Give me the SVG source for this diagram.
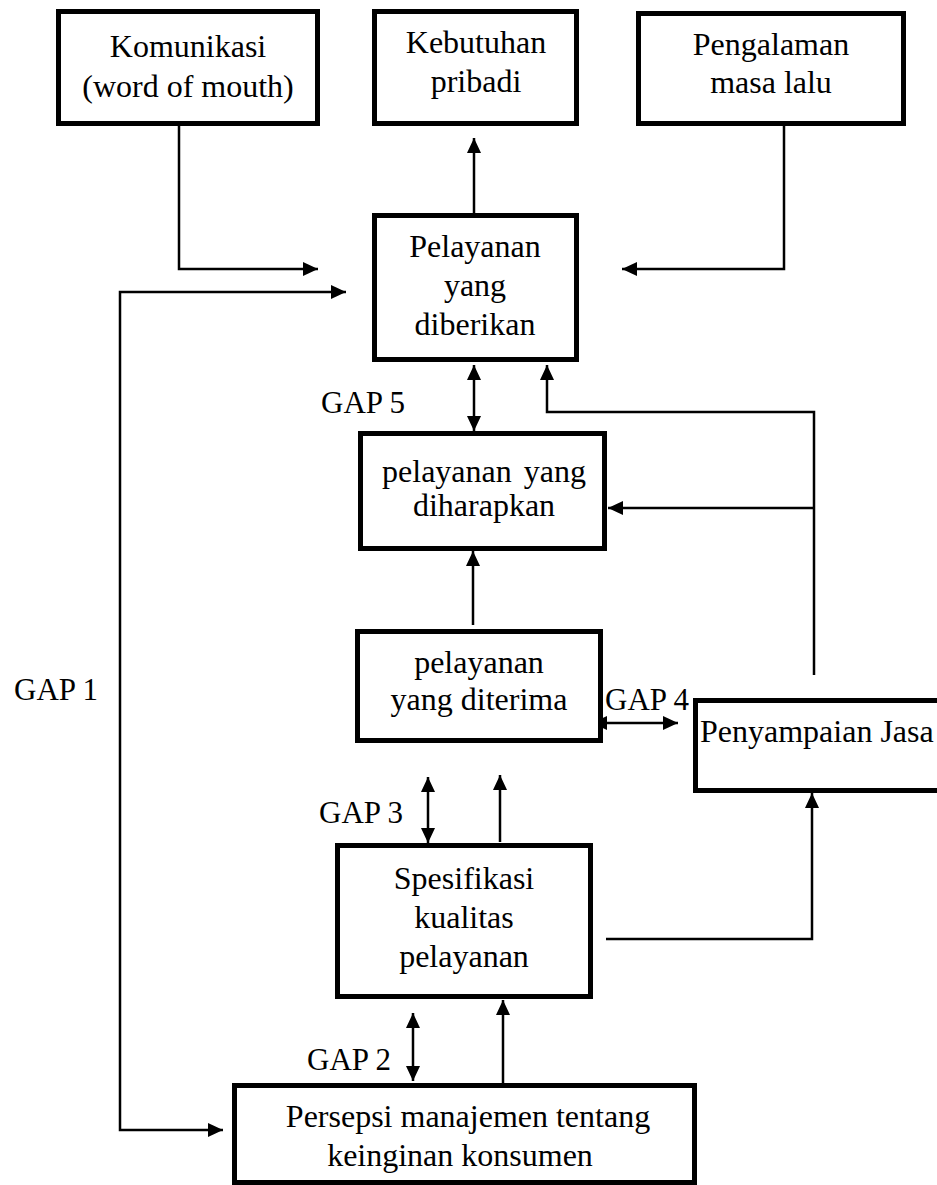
<svg xmlns="http://www.w3.org/2000/svg" width="937" height="1185" viewBox="0 0 937 1185">
<style>
.box{fill:#fff;stroke:#000;stroke-width:5}
.t{font-family:"Liberation Serif","Times New Roman",serif;font-size:32px;fill:#000;text-anchor:middle}
.g{font-family:"Liberation Serif","Times New Roman",serif;font-size:31px;fill:#000}
.c{fill:none;stroke:#000;stroke-width:2.5}
.a{marker-end:url(#ah)}
.d{marker-start:url(#ah);marker-end:url(#ah)}
</style>
<defs>
<marker id="ah" markerUnits="userSpaceOnUse" markerWidth="15" markerHeight="14" refX="15" refY="7" orient="auto-start-reverse" viewBox="0 0 15 14">
<path d="M0,0 L15,7 L0,14 z" fill="#000"/>
</marker>
</defs>
<rect width="937" height="1185" fill="#fff"/>
<g id="connectors">
<path class="c a" d="M179,126 V269 H318"/>
<path class="c d" d="M346,292 H120 V1130 H223"/>
<path class="c a" d="M784,126 V269 H622"/>
<path class="c a" d="M474,223 V138"/>
<path class="c d" d="M474,365 V431"/>
<path class="c a" d="M814,675 V412 H547 V365"/>
<path class="c a" d="M814,508 H608"/>
<path class="c a" d="M473,625 V551"/>
<path class="c d" d="M592,723 H678"/>
<path class="c d" d="M428,777 V843"/>
<path class="c a" d="M500,842 V775"/>
<path class="c a" d="M606,939 H812 V793"/>
<path class="c d" d="M413,1013 V1081"/>
<path class="c a" d="M503,1083 V1000"/>
</g>
<g id="komunikasi">
<rect class="box" x="58.5" y="11.5" width="259" height="112"/>
<text class="t" x="188" y="57">Komunikasi</text>
<text class="t" x="188" y="97">(word of mouth)</text>
</g>
<g id="kebutuhan">
<rect class="box" x="374.5" y="11.5" width="202" height="112"/>
<text class="t" x="476" y="53">Kebutuhan</text>
<text class="t" x="476" y="92">pribadi</text>
</g>
<g id="pengalaman">
<rect class="box" x="638.5" y="13.5" width="265" height="110"/>
<text class="t" x="771" y="55">Pengalaman</text>
<text class="t" x="771" y="93">masa lalu</text>
</g>
<g id="diberikan">
<rect class="box" x="374.5" y="215.5" width="202" height="144"/>
<text class="t" x="475" y="257">Pelayanan</text>
<text class="t" x="475" y="296">yang</text>
<text class="t" x="475" y="335">diberikan</text>
</g>
<g id="diharapkan">
<rect class="box" x="360.5" y="433.5" width="244" height="115"/>
<text class="t" x="484" y="482" word-spacing="4">pelayanan yang</text>
<text class="t" x="484" y="516">diharapkan</text>
</g>
<g id="diterima">
<rect class="box" x="357.5" y="631.5" width="243" height="109"/>
<text class="t" x="479" y="673">pelayanan</text>
<text class="t" x="479" y="710">yang diterima</text>
</g>
<g id="penyampaian">
<rect class="box" x="695.5" y="700.5" width="260" height="90"/>
<text class="t" x="700" y="742" style="text-anchor:start">Penyampaian Jasa</text>
</g>
<g id="spesifikasi">
<rect class="box" x="337.5" y="845.5" width="253" height="151"/>
<text class="t" x="464" y="889">Spesifikasi</text>
<text class="t" x="464" y="928">kualitas</text>
<text class="t" x="464" y="967">pelayanan</text>
</g>
<g id="persepsi">
<rect class="box" x="234.5" y="1085.5" width="460" height="97"/>
<text class="t" x="468" y="1127">Persepsi manajemen tentang</text>
<text class="t" x="460" y="1166">keinginan konsumen</text>
</g>
<g id="labels">
<text class="g" x="321" y="413">GAP 5</text>
<text class="g" x="605" y="710">GAP 4</text>
<text class="g" x="319" y="823">GAP 3</text>
<text class="g" x="307" y="1070">GAP 2</text>
<text class="g" x="14" y="700">GAP 1</text>
</g>
</svg>
